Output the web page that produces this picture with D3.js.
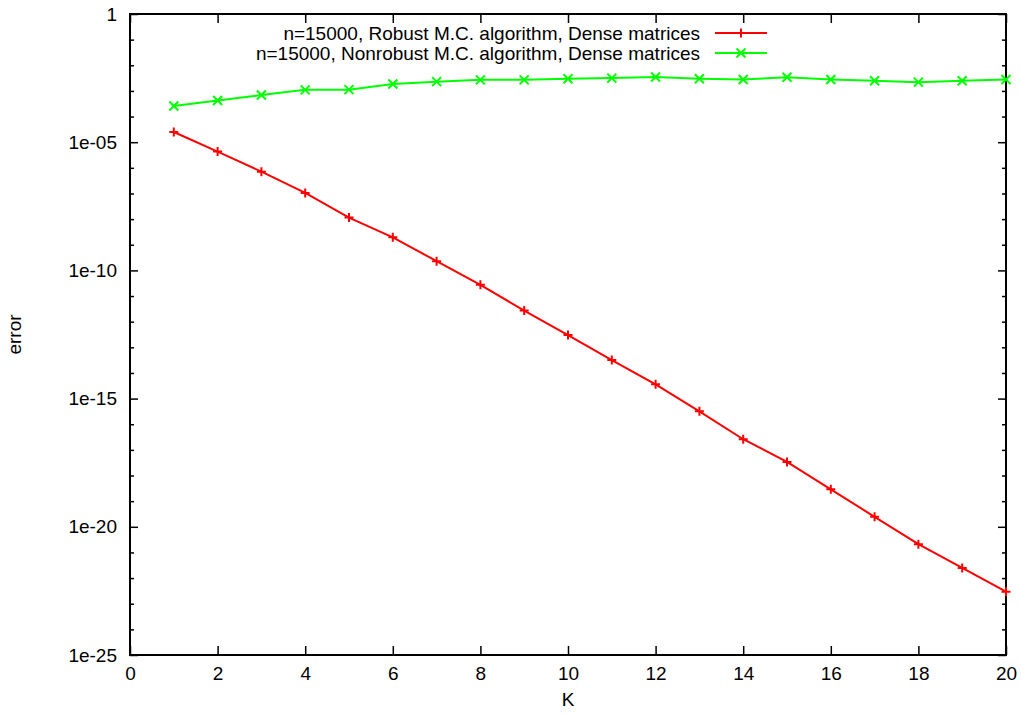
<!DOCTYPE html>
<html lang="en">
<head>
  <meta charset="UTF-8">
  <title>error vs K</title>
  <style>
    body { margin: 0; background: #fff; }
    svg { display: block; }
    text { font-family: "Liberation Sans", Arial, sans-serif; fill: #000; }
    .axis path.domain { display: none; }
    .axis line { stroke: #000; stroke-width: 1.5; }
  </style>
</head>
<body>
  <div id="chart"></div>
  <script src="https://cdn.jsdelivr.net/npm/d3@7"></script>
  <script>
    // data
    const kValues = [1, 2, 3, 4, 5, 6, 7, 8, 9, 10, 11, 12, 13, 14, 15, 16, 17, 18, 19, 20];
    const robustErr = [2.5e-5, 4.3e-6, 7.1e-7, 1.05e-7, 1.15e-8, 1.95e-9, 2.3e-10, 2.75e-11, 2.7e-12, 3.0e-13,
      3.2e-14, 3.6e-15, 3.2e-16, 2.6e-17, 3.4e-18, 2.9e-19, 2.45e-20, 2.1e-21, 2.5e-22, 2.95e-23];
    const nonrobustErr = [2.6e-4, 4.2e-4, 6.9e-4, 1.1e-3, 1.12e-3, 1.86e-3, 2.3e-3, 2.7e-3, 2.7e-3, 3.0e-3,
      3.16e-3, 3.5e-3, 3.0e-3, 2.8e-3, 3.4e-3, 2.8e-3, 2.5e-3, 2.2e-3, 2.5e-3, 2.8e-3];
    const seriesNames = [
      "n=15000, Robust M.C. algorithm, Dense matrices",
      "n=15000, Nonrobust M.C. algorithm, Dense matrices"
    ];
    const xTicks = [0, 2, 4, 6, 8, 10, 12, 14, 16, 18, 20];
    const yMajor = [1, 1e-5, 1e-10, 1e-15, 1e-20, 1e-25];
    const yLabels = ["1", "1e-05", "1e-10", "1e-15", "1e-20", "1e-25"];

    const W = 1021, H = 716;
    const margin = { left: 130, top: 14, right: 15, bottom: 61 };
    const iw = W - margin.left - margin.right;
    const ih = H - margin.top - margin.bottom;

    const svg = d3.select('#chart').append('svg')
      .attr('width', W)
      .attr('height', H);
    const g = svg.append('g')
      .attr('transform', `translate(${margin.left},${margin.top})`);

    const x = d3.scaleLinear().domain([0, 20]).range([0, iw]);
    const y = d3.scaleLog().domain([1e-25, 1]).range([ih, 0]);

    // minor ticks: every decade
    const yMinor = d3.range(-24, 0).filter(e => e % 5 !== 0).map(e => Math.pow(10, e));
    const fs = '19px';

    // left axis
    g.append('g').attr('class', 'axis')
      .call(d3.axisLeft(y).tickValues(yMinor).tickSize(-4).tickFormat(''));
    g.append('g').attr('class', 'axis')
      .call(d3.axisLeft(y).tickValues(yMajor).tickSize(-8).tickPadding(13)
        .tickFormat((d, i) => yLabels[i]))
      .selectAll('text').style('font-size', fs);
    // right axis
    g.append('g').attr('class', 'axis')
      .attr('transform', `translate(${iw},0)`)
      .call(d3.axisRight(y).tickValues(yMinor).tickSize(-4).tickFormat(''));
    g.append('g').attr('class', 'axis')
      .attr('transform', `translate(${iw},0)`)
      .call(d3.axisRight(y).tickValues(yMajor).tickSize(-8).tickFormat(''));
    // bottom + top axis
    g.append('g').attr('class', 'axis')
      .attr('transform', `translate(0,${ih})`)
      .call(d3.axisBottom(x).tickValues(xTicks).tickSize(-9).tickPadding(12).tickFormat(d3.format('d')))
      .selectAll('text').style('font-size', fs);
    g.append('g').attr('class', 'axis')
      .call(d3.axisTop(x).tickValues(xTicks).tickSize(-9).tickFormat(''));

    // frame
    g.append('rect')
      .attr('width', iw).attr('height', ih)
      .attr('fill', 'none').attr('stroke', '#000').attr('stroke-width', 2);

    // axis titles
    svg.append('text')
      .attr('x', margin.left + iw / 2).attr('y', 706)
      .attr('text-anchor', 'middle').style('font-size', fs)
      .text('K');
    svg.append('text')
      .attr('transform', `translate(21,${margin.top + ih / 2}) rotate(-90)`)
      .attr('text-anchor', 'middle').style('font-size', fs)
      .text('error');

    const series = [
      { name: seriesNames[0], vals: robustErr, color: '#ff0000', mark: 'plus' },
      { name: seriesNames[1], vals: nonrobustErr, color: '#00ff00', mark: 'cross' }
    ];

    const line = d3.line().x(d => x(d[0])).y(d => y(d[1]));

    function marker(sel, type, color) {
      const s = 4.5;
      const d = type === 'plus'
        ? `M${-s},0H${s}M0,${-s}V${s}`
        : `M${-s},${-s}L${s},${s}M${-s},${s}L${s},${-s}`;
      sel.append('path')
        .attr('d', d)
        .attr('stroke', color)
        .attr('stroke-width', 2)
        .attr('fill', 'none');
    }

    series.forEach((s, si) => {
      const pts = kValues.map((k, i) => [k, s.vals[i]]);
      g.append('path')
        .datum(pts)
        .attr('d', line)
        .attr('fill', 'none')
        .attr('stroke', s.color)
        .attr('stroke-width', 2);
      g.selectAll(null)
        .data(pts)
        .enter().append('g')
        .attr('transform', d => `translate(${x(d[0])},${y(d[1])})`)
        .each(function () { marker(d3.select(this), s.mark, s.color); });

      // legend
      const ly = 33 + si * 20;
      svg.append('text')
        .attr('x', 700).attr('y', ly)
        .attr('dy', '0.35em')
        .attr('text-anchor', 'end')
        .style('font-size', fs)
        .text(s.name);
      svg.append('line')
        .attr('x1', 715).attr('x2', 767)
        .attr('y1', ly).attr('y2', ly)
        .attr('stroke', s.color).attr('stroke-width', 2);
      const lg = svg.append('g').attr('transform', `translate(741,${ly})`);
      marker(lg, s.mark, s.color);
    });
  </script>
</body>
</html>
